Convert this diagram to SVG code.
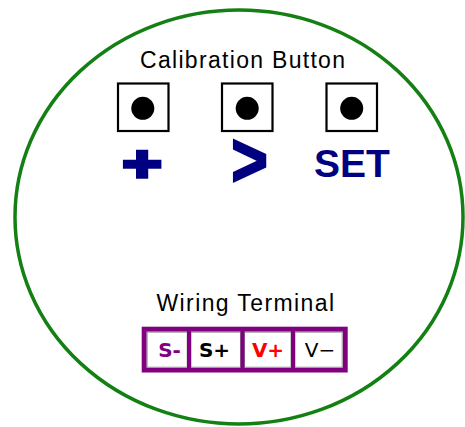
<svg xmlns="http://www.w3.org/2000/svg" width="465" height="427" viewBox="0 0 465 427">
<style>
.lbl{font-family:"Liberation Sans",Arial,sans-serif;font-size:23px;fill:#000;}
.btn{fill:#fff;stroke:#000;stroke-width:2.2;}
.dot{fill:#000;}
.sym{font-family:"Liberation Sans",Arial,sans-serif;font-weight:bold;fill:#000080;text-anchor:middle;}
.cell{fill:#fff;stroke:#9a9a9a;stroke-width:1;}
.term{font-family:"DejaVu Sans","Liberation Sans",sans-serif;font-size:20px;text-anchor:middle;}
</style>
<rect width="465" height="427" fill="#fff"/>
<g id="housing">
<ellipse cx="239" cy="217" rx="224" ry="207" fill="none" stroke="#148014" stroke-width="3.5"/>
</g>
<g id="calibration-label">
<text class="lbl" x="140" y="68" textLength="205" lengthAdjust="spacing">Calibration Button</text>
</g>
<g id="btn-plus">
<rect class="btn" x="118" y="83.5" width="50.5" height="47.5"/>
<circle class="dot" cx="142.8" cy="108.3" r="11.5"/>
<text class="sym" transform="translate(142,164) scale(1.2,0.88)" x="0" y="19" font-size="56" stroke="#000080" stroke-width="4">+</text>
</g>
<g id="btn-next">
<rect class="btn" x="222" y="83.5" width="50.5" height="47.5"/>
<circle class="dot" cx="247.2" cy="108.3" r="11.5"/>
<text class="sym" transform="translate(249.5,161) scale(0.95,1.15)" x="0" y="22" font-size="66" stroke="#000080" stroke-width="2">&gt;</text>
</g>
<g id="btn-set">
<rect class="btn" x="326.5" y="83.5" width="50.5" height="47.5"/>
<circle class="dot" cx="351.7" cy="108.3" r="11.5"/>
<text class="sym" x="352" y="177" font-size="39">SET</text>
</g>
<g id="wiring-label">
<text class="lbl" x="156.5" y="311" textLength="177.5" lengthAdjust="spacing">Wiring Terminal</text>
</g>
<g id="terminal">
<rect x="144.2" y="329.2" width="201" height="40.8" fill="#fff" stroke="#800080" stroke-width="5"/>
<rect class="cell" x="147.2" y="332.2" width="40" height="35"/>
<rect class="cell" x="191" y="332.2" width="49.5" height="35"/>
<rect class="cell" x="244.5" y="332.2" width="46.5" height="35"/>
<rect class="cell" x="295" y="332.2" width="47.2" height="35"/>
<line x1="189" y1="329" x2="189" y2="370" stroke="#800080" stroke-width="4"/>
<line x1="242.5" y1="329" x2="242.5" y2="370" stroke="#800080" stroke-width="4"/>
<line x1="293" y1="329" x2="293" y2="370" stroke="#800080" stroke-width="4"/>
<text class="term" x="169.5" y="356.5" fill="#800080" font-weight="bold">S-</text>
<text class="term" x="214.5" y="356.5" fill="#000" font-weight="bold">S+</text>
<text class="term" x="268" y="356.5" fill="#ff0000" font-weight="bold">V+</text>
<text class="term" x="320" y="356.5" fill="#000">V−</text>
</g>
</svg>
